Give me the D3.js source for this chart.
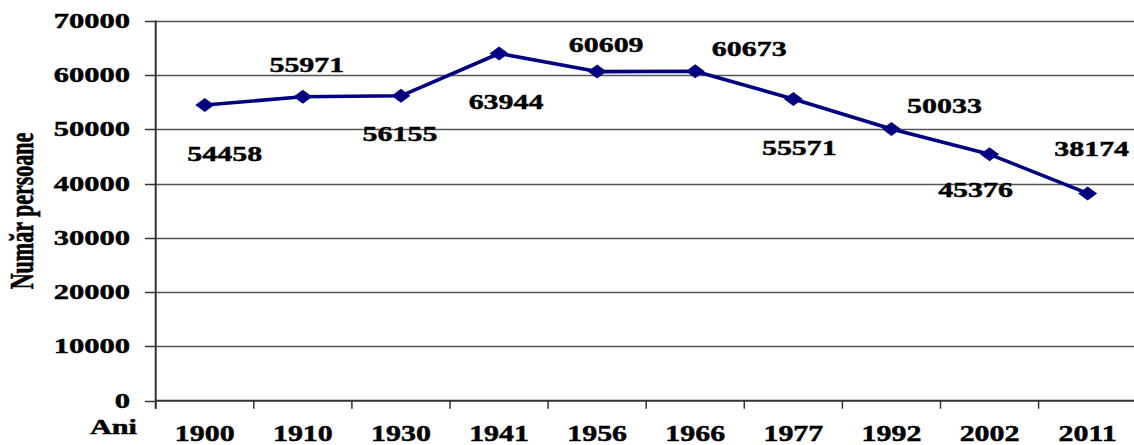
<!DOCTYPE html>
<html>
<head>
<meta charset="utf-8">
<script src="https://cdn.jsdelivr.net/npm/d3@7"></script>
<style>
  html, body { margin: 0; padding: 0; background: #fff; }
  svg { display: block; }
  text { font-family: "Liberation Serif", "Times New Roman", serif; font-weight: bold; fill: #000; stroke: #000; stroke-width: 0.45; }
</style>
</head>
<body>
<svg id="chart" width="1134" height="445"></svg>
<script>
// ---- data ----
const years = ["1900", "1910", "1930", "1941", "1956", "1966", "1977", "1992", "2002", "2011"];
const population = [54458, 55971, 56155, 63944, 60609, 60673, 55571, 50033, 45376, 38174];
const yTicks = [0, 10000, 20000, 30000, 40000, 50000, 60000, 70000];
// label offsets (dx, dy of baseline) relative to each point
const labelDx = [20, 4, -1, 7, 9, 54, 6, 53, -14, 4];
const labelDy = [56, -25, 45, 56, -20, -15, 56, -16, 43, -37];

const svg = d3.select("#chart");
const plotL = 155.7, plotR = 1136.7, plotT = 20.6, plotB = 400.7;

const x = d3.scaleBand().domain(years).range([plotL, plotR]).padding(0);
const y = d3.scaleLinear().domain([0, 70000]).range([plotB, plotT]);
const cx = d => x(d) + x.bandwidth() / 2;

// gridlines
svg.append("g").selectAll("line")
  .data(yTicks.filter(t => t > 0))
  .join("line")
  .attr("x1", plotL).attr("x2", 1134)
  .attr("y1", d => Math.round(y(d)) + 0.5).attr("y2", d => Math.round(y(d)) + 0.5)
  .attr("stroke", "#555").attr("stroke-width", 1.3);

// y axis
const yAxis = svg.append("g");
yAxis.append("line")
  .attr("x1", plotL).attr("x2", plotL).attr("y1", plotT).attr("y2", plotB + 8)
  .attr("stroke", "#333").attr("stroke-width", 2);
yAxis.selectAll("line.tick")
  .data(yTicks).join("line").attr("class", "tick")
  .attr("x1", 145).attr("x2", plotL)
  .attr("y1", d => Math.round(y(d)) + 0.5).attr("y2", d => Math.round(y(d)) + 0.5)
  .attr("stroke", "#333").attr("stroke-width", 1.5);
yAxis.selectAll("text")
  .data(yTicks).join("text")
  .attr("transform", d => `translate(130,${y(d) + 7}) scale(1.49,1)`)
  .attr("text-anchor", "end")
  .attr("font-size", 20.5)
  .text(d => d);

// x axis
const xAxis = svg.append("g");
xAxis.append("line")
  .attr("x1", plotL).attr("x2", 1134).attr("y1", plotB).attr("y2", plotB)
  .attr("stroke", "#333").attr("stroke-width", 2);
xAxis.selectAll("line.tick")
  .data(years).join("line").attr("class", "tick")
  .attr("x1", d => x(d)).attr("x2", d => x(d))
  .attr("y1", plotB).attr("y2", plotB + 8)
  .attr("stroke", "#333").attr("stroke-width", 1.5);
xAxis.selectAll("text")
  .data(years).join("text")
  .attr("transform", d => `translate(${cx(d)},441) scale(1.33,1)`)
  .attr("text-anchor", "middle")
  .attr("font-size", 22.5)
  .text(d => d);

// axis titles
svg.append("text")
  .attr("transform", "translate(137,434) scale(1.44,1)")
  .attr("text-anchor", "end")
  .attr("font-size", 21)
  .text("Ani");
svg.append("text")
  .attr("transform", "translate(33,211) scale(1.49,1) rotate(-90)")
  .attr("text-anchor", "middle")
  .attr("font-size", 22)
  .text("Număr persoane");

// line
const pts = years.map((yr, i) => ({ yr, v: population[i], i }));
svg.append("path")
  .datum(pts)
  .attr("fill", "none")
  .attr("stroke", "#000080")
  .attr("stroke-width", 3.6)
  .attr("stroke-linejoin", "round")
  .attr("d", d3.line().x(d => cx(d.yr)).y(d => y(d.v)));

// markers (diamonds)
svg.append("g").selectAll("path")
  .data(pts).join("path")
  .attr("transform", d => `translate(${cx(d.yr)},${y(d.v)})`)
  .attr("d", "M-9.5,0 L0,-7 L9.5,0 L0,7 Z")
  .attr("fill", "#000080");

// data labels
svg.append("g").selectAll("text")
  .data(pts).join("text")
  .attr("transform", d => `translate(${cx(d.yr) + labelDx[d.i]},${y(d.v) + labelDy[d.i]}) scale(1.36,1)`)
  .attr("text-anchor", "middle")
  .attr("font-size", 22)
  .text(d => d.v);
</script>
</body>
</html>
